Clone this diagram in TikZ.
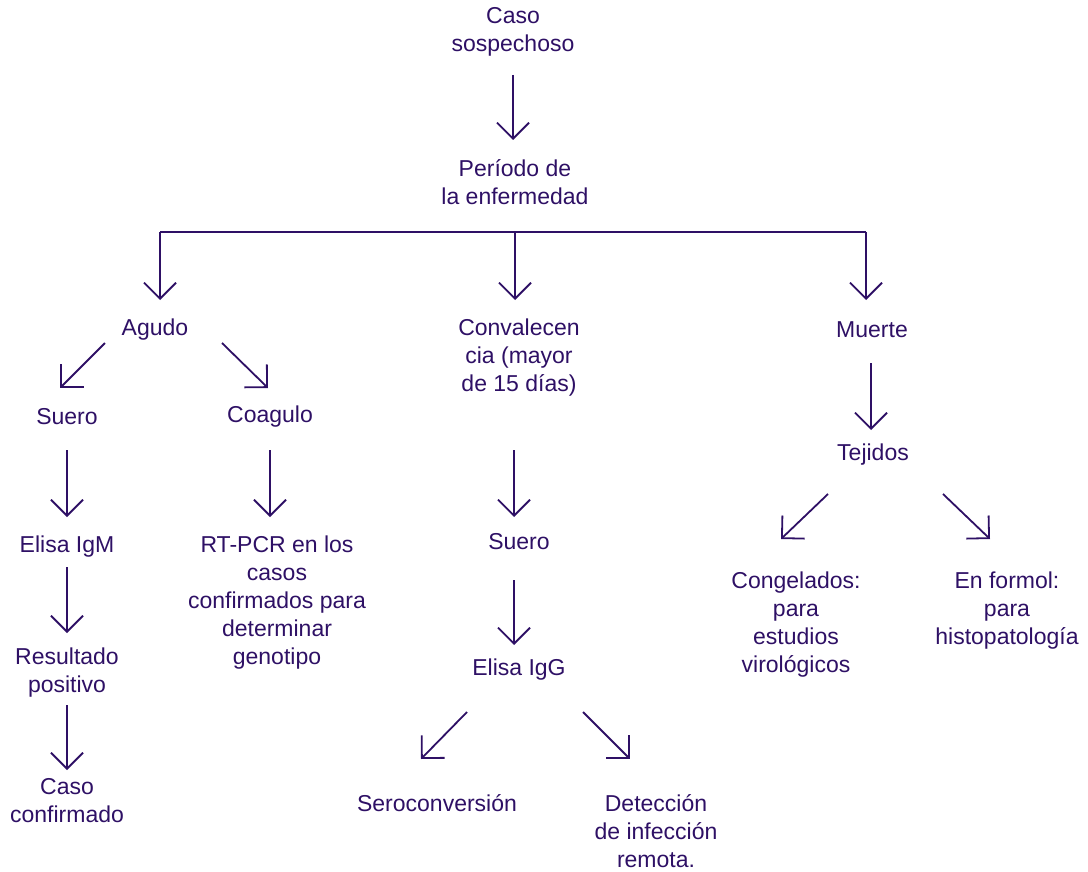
\documentclass[tikz,border=0pt]{standalone}
\usepackage{fontspec}
\setmainfont{Liberation Sans}
\usetikzlibrary{arrows.meta,calc}
\definecolor{ink}{RGB}{46,16,101}
\begin{document}
\begin{tikzpicture}[
  x=1pt, y=1pt,
  txt/.style={align=center, text=ink, inner sep=0pt, font=\fontsize{23}{28}\selectfont},
  arr/.style={draw=ink, line width=1.8pt, -{Straight Barb[length=16pt,width=32pt]}},
  node distance=150pt
]
\useasboundingbox (0,0) rectangle (1088,-872);
% Top
\node[txt] (caso) at (513,-32) {Caso\\sospechoso};
\node[txt, below of=caso, xshift=2pt] (periodo) {Período de\\la enfermedad};

% Three periods
\node[txt, below of=periodo, node distance=176pt, xshift=4pt] (conv) {Convalecen\\cia (mayor\\de 15 días)};
\node[txt, left of=conv, node distance=364pt, yshift=28pt] (agudo) {Agudo};
\node[txt, right of=conv, node distance=353pt, yshift=28pt] (muerte) {Muerte};

% Agudo branch
\node[txt, below of=agudo, node distance=87pt, xshift=-88pt] (sueroA) {Suero};
\node[txt, right of=sueroA, node distance=203pt] (coagulo) {Coagulo};
\node[txt, below of=sueroA, node distance=130pt] (elisaM) {Elisa IgM};
\node[txt, below of=elisaM, node distance=126pt] (resultado) {Resultado\\positivo};
\node[txt, below of=resultado, node distance=128pt] (confirmado) {Caso\\confirmado};
\node[txt, below of=coagulo, node distance=186pt, xshift=7pt] (rtpcr) {RT-PCR en los\\casos\\confirmados para\\determinar\\genotipo};

% Convalecencia branch
\node[txt, below of=conv, node distance=184pt] (sueroC) {Suero};
\node[txt, below of=sueroC, node distance=128pt] (elisaG) {Elisa IgG};
\node[txt, below of=elisaG, node distance=133pt, xshift=-82pt] (sero) {Seroconversión};
\node[txt, below of=elisaG, node distance=161pt, xshift=137pt] (deteccion) {Detección\\de infección\\remota.};

% Muerte branch
\node[txt, below of=muerte, node distance=125pt, xshift=1pt] (tejidos) {Tejidos};
\node[txt, below of=tejidos, node distance=170pt, xshift=-77pt] (congelados) {Congelados:\\para\\estudios\\virológicos};
\node[txt, below of=tejidos, node distance=156pt, xshift=134pt] (formol) {En formol:\\para\\histopatología};

% Bus
\coordinate (busL) at (160,-232);
\coordinate (busM) at (515,-232);
\coordinate (busR) at (866,-232);

% Connections
\draw[arr, shorten <=43pt, shorten >=42pt] (caso.center) -- (caso.center |- periodo.center);
\draw[draw=ink, line width=1.8pt] (busL) -- (busR);
\draw[arr, shorten >=30pt] (busL) -- (busL |- agudo.center);
\draw[arr, shorten >=58pt] (busM) -- (busM |- conv.center);
\draw[arr, shorten >=30pt] (busR) -- (busR |- muerte.center);

\draw[arr] ($(agudo)+(-50,-13)$) -- ($(sueroA)+(-7,29)$);
\draw[arr] ($(agudo)+(67,-13)$) -- ($(coagulo)+(-2,29)$);
\draw[arr, shorten <=33pt, shorten >=30pt] (sueroA.center) -- (sueroA.center |- elisaM.center);
\draw[arr, shorten <=20pt, shorten >=40pt] (elisaM.center) -- (elisaM.center |- resultado.center);
\draw[arr, shorten <=32pt, shorten >=31pt] (resultado.center) -- (resultado.center |- confirmado.center);
\draw[arr, shorten <=33pt, shorten >=86pt] (coagulo.center) -- (coagulo.center |- rtpcr.center);

\draw[arr, shorten <=92pt, shorten >=25pt] ([xshift=-5pt]conv.center) -- ([xshift=-5pt]conv.center |- sueroC.center);
\draw[arr, shorten <=38pt, shorten >=25pt] ([xshift=-5pt]sueroC.center) -- ([xshift=-5pt]sueroC.center |- elisaG.center);
\draw[arr] ($(elisaG)+(-52,-42)$) -- ($(sero)+(-16,44)$);
\draw[arr] ($(elisaG)+(64,-42)$) -- ($(deteccion)+(-26,72)$);

\draw[arr, shorten <=33pt, shorten >=25pt] ([xshift=-1pt]muerte.center) -- ([xshift=-1pt]muerte.center |- tejidos.center);
\draw[arr] ($(tejidos)+(-45,-39)$) -- ($(congelados)+(-15,86)$);
\draw[arr] ($(tejidos)+(70,-39)$) -- ($(formol)+(-17,72)$);
\end{tikzpicture}
\end{document}
